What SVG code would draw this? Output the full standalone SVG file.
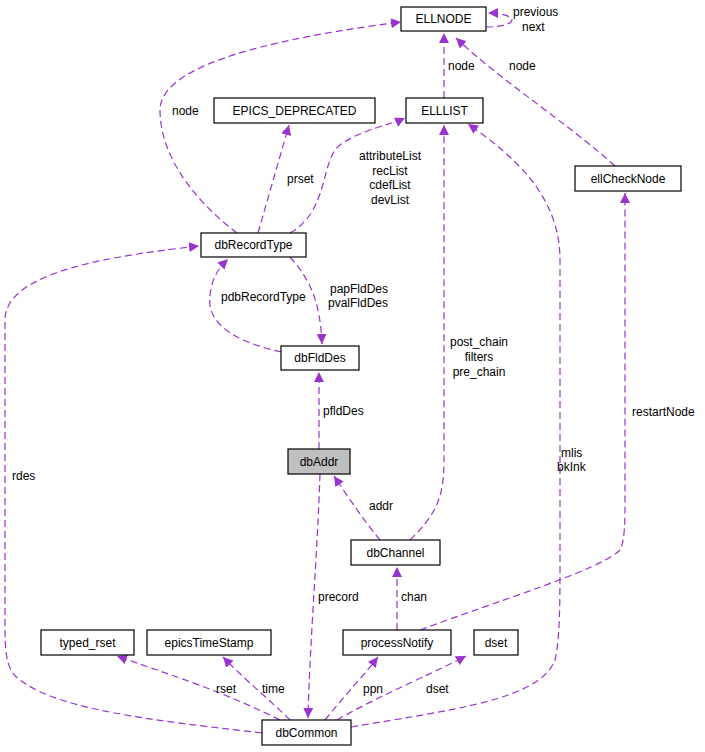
<svg xmlns="http://www.w3.org/2000/svg" width="705" height="752" viewBox="0 0 705 752">
<style>
.n rect{fill:#fff;stroke:#000;stroke-width:1.2}
.n text,.l{font-family:"Liberation Sans",Arial,sans-serif;font-size:12px;fill:#000}
.n text{text-anchor:middle}
.e path{fill:none;stroke:#9a32cd;stroke-width:1.2;stroke-dasharray:7,4;marker-end:url(#a)}
</style>
<defs><marker id="a" viewBox="0 0 10 10" refX="10" refY="5" markerWidth="10" markerHeight="10" markerUnits="userSpaceOnUse" orient="auto"><path d="M0,0L10,5L0,10z" fill="#9a32cd"/></marker></defs>
<rect width="705" height="752" fill="#fff"/>
<g class="e">
<path d="M486,27C500,27 512,24 512,20C512,16 500,13 488,13"/>
<path d="M237,233C200,205 160,160 160,110C160,60 300,35 401,22"/>
<path d="M444,98V33"/>
<path d="M615,166C570,125 500,80 456,38"/>
<path d="M258,233L289,125"/>
<path d="M290,233C330,210 320,160 340,145C360,130 390,125 405,118"/>
<path d="M290,257C310,280 320,300 322,344"/>
<path d="M281,352C250,345 205,330 210,295C212,275 222,265 228,259"/>
<path d="M319,449V372"/>
<path d="M380,540C365,522 350,500 334,476"/>
<path d="M410,540C435,515 444,500 444,460V125"/>
<path d="M351,727C450,710 540,700 555,660C560,640 560,600 560,560V260C560,200 520,160 468,124"/>
<path d="M420,630C500,600 600,570 620,550C625,540 625,520 625,500V193"/>
<path d="M397,630V567"/>
<path d="M320,474C317,560 310,640 308,718"/>
<path d="M262,733C150,720 60,710 20,680C5,670 5,650 5,620V320C5,270 120,255 199,246"/>
<path d="M280,720C220,690 170,675 117,656"/>
<path d="M290,720C270,700 245,680 223,657"/>
<path d="M325,720C345,695 360,680 378,657"/>
<path d="M337,720C380,695 430,675 466,656"/>
</g>
<g class="l">
<text x="513" y="16">previous</text><text x="522" y="31">next</text>
<text x="172" y="115">node</text>
<text x="448" y="70">node</text>
<text x="509" y="70">node</text>
<text x="287" y="183">prset</text>
<text x="390" y="160" text-anchor="middle">attributeList</text><text x="390" y="175" text-anchor="middle">recList</text><text x="390" y="189" text-anchor="middle">cdefList</text><text x="390" y="204" text-anchor="middle">devList</text>
<text x="330" y="293">papFldDes</text><text x="328" y="307">pvalFldDes</text>
<text x="221" y="301">pdbRecordType</text>
<text x="323" y="415">pfldDes</text>
<text x="369" y="510">addr</text>
<text x="479" y="346" text-anchor="middle">post_chain</text><text x="479" y="361" text-anchor="middle">filters</text><text x="479" y="376" text-anchor="middle">pre_chain</text>
<text x="561" y="457">mlis</text><text x="557" y="471">bkInk</text>
<text x="632" y="416">restartNode</text>
<text x="401" y="601">chan</text>
<text x="318" y="601">precord</text>
<text x="12" y="480">rdes</text>
<text x="216" y="693">rset</text>
<text x="262" y="693">time</text>
<text x="363" y="693">ppn</text>
<text x="426" y="693">dset</text>
</g>
<g id="ELLNODE" class="n"><rect x="401" y="7" width="85" height="24"/><text x="443.5" y="23">ELLNODE</text></g>
<g id="EPICS_DEPRECATED" class="n"><rect x="214" y="98" width="161" height="25"/><text x="294.5" y="115">EPICS_DEPRECATED</text></g>
<g id="ELLLIST" class="n"><rect x="406" y="98" width="77" height="25"/><text x="444.5" y="115">ELLLIST</text></g>
<g id="ellCheckNode" class="n"><rect x="575" y="166" width="106" height="25"/><text x="628" y="183">ellCheckNode</text></g>
<g id="dbRecordType" class="n"><rect x="201" y="233" width="105" height="24"/><text x="253.5" y="249">dbRecordType</text></g>
<g id="dbFldDes" class="n"><rect x="281" y="346" width="78" height="24"/><text x="320" y="362">dbFldDes</text></g>
<g id="dbAddr" class="n"><rect x="288" y="449" width="62" height="25" style="fill:#bfbfbf"/><text x="319" y="466">dbAddr</text></g>
<g id="dbChannel" class="n"><rect x="351" y="540" width="89" height="25"/><text x="395.5" y="557">dbChannel</text></g>
<g id="typed_rset" class="n"><rect x="41" y="630" width="93" height="25"/><text x="87.5" y="647">typed_rset</text></g>
<g id="epicsTimeStamp" class="n"><rect x="147" y="630" width="124" height="25"/><text x="209" y="647">epicsTimeStamp</text></g>
<g id="processNotify" class="n"><rect x="343" y="630" width="108" height="25"/><text x="397" y="647">processNotify</text></g>
<g id="dset" class="n"><rect x="474" y="630" width="44" height="25"/><text x="496" y="647">dset</text></g>
<g id="dbCommon" class="n"><rect x="262" y="720" width="89" height="25"/><text x="306.5" y="737">dbCommon</text></g>
</svg>
